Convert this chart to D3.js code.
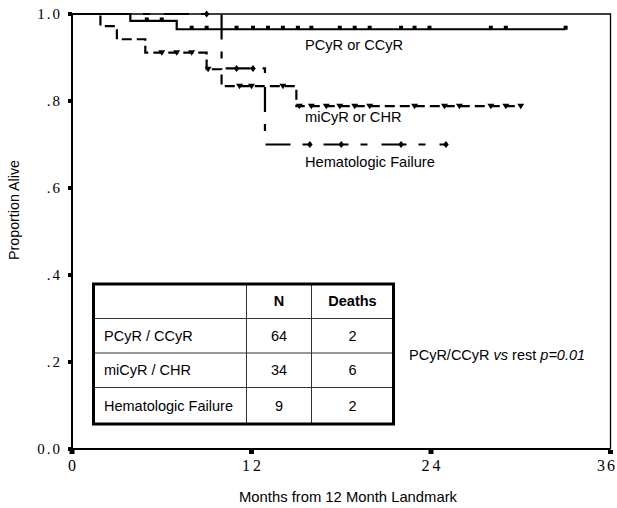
<!DOCTYPE html>
<html lang="en">
	<head>
		<meta charset="utf-8">
		<title>Proportion alive from 12 month landmark</title>
		<script type="text/javascript" src="https://cdn.jsdelivr.net/npm/d3@7"></script>
		<style type="text/css">
			body { margin: 0; background: white; }
			text { font-family: "Liberation Sans", Arial, sans-serif; fill: black; }
			.tick-label { font-family: "Liberation Serif", "Times New Roman", serif; }
		</style>
	</head>
	<body>
		<script type="text/javascript">

			var w = 617;
			var h = 508;

			// Kaplan-Meier steps: [month, proportion alive]
			var pcyrSteps = [[0, 1], [3.9, 0.984], [7.0, 0.965]];
			var pcyrEnd = 33.0;
			var pcyrCensored = [5, 6, 8, 9, 11, 12.1, 13.1, 14.1, 15.1, 16, 17.9, 18.9, 19.9, 22, 22.9, 23.9, 28, 29, 33];

			var micySteps = [[0, 1], [1.9, 0.972], [3.0, 0.942], [4.9, 0.911], [9.0, 0.873], [10.0, 0.834], [15.0, 0.788]];
			var micyEnd = 30.0;
			var micyCensored = [6, 7, 8, 9.1, 11.2, 12.0, 14.1, 15.2, 16, 17, 17.9, 18.9, 19.9, 22.9, 24.9, 25.9, 28, 29, 30];

			var hfSteps = [[0, 1], [10.0, 0.875], [12.9, 0.70]];
			var hfEnd = 25.0;
			var hfCensored = [9.0, 11.0, 12.1, 15.9, 18.0, 22.0, 25.0];

			var curveLabels = ["PCyR or CCyR", "miCyR or CHR", "Hematologic Failure"];

			var xTicks = [0, 12, 24, 36];
			var xTickLabels = ["0", "12", "24", "36"];
			var yTicks = [0, 0.2, 0.4, 0.6, 0.8, 1.0];
			var yTickLabels = ["0.0", ".2", ".4", ".6", ".8", "1.0"];

			var tableHeader = ["", "N", "Deaths"];
			var tableGroups = ["PCyR / CCyR", "miCyR / CHR", "Hematologic Failure"];
			var tableN = [64, 34, 9];
			var tableDeaths = [2, 6, 2];

			var svg = d3.select("body")
						.append("svg")
						.attr("width", w)
						.attr("height", h);

			var x = d3.scaleLinear().domain([0, 36]).range([72, 610.5]);
			var y = d3.scaleLinear().domain([0, 1]).range([449, 14]);

			// frame (top and right thin)
			svg.append("path")
				.attr("d", "M" + x(0) + "," + y(1) + "H" + x(36) + "V" + y(0))
				.attr("fill", "none")
				.attr("stroke", "black")
				.attr("stroke-width", 1.3);

			// axes lines
			svg.append("line")
				.attr("x1", x(0)).attr("x2", x(0))
				.attr("y1", y(1)).attr("y2", y(0))
				.attr("stroke", "black").attr("stroke-width", 2);
			svg.append("line")
				.attr("x1", x(0)).attr("x2", x(36))
				.attr("y1", y(0)).attr("y2", y(0))
				.attr("stroke", "black").attr("stroke-width", 2);

			// y ticks: small squares left of the axis
			svg.selectAll("rect.ytick")
				.data(yTicks)
				.enter()
				.append("rect")
				.attr("class", "ytick")
				.attr("x", x(0) - 4)
				.attr("y", function(d) { return y(d) - 2; })
				.attr("width", 4)
				.attr("height", 4)
				.attr("fill", "black");

			svg.selectAll("text.ylab")
				.data(yTicks)
				.enter()
				.append("text")
				.attr("class", "ylab tick-label")
				.attr("x", 62)
				.attr("y", function(d) { return y(d) + 5; })
				.attr("text-anchor", "end")
				.style("font-size", "15px")
				.style("letter-spacing", "2px")
				.text(function(d, i) { return yTickLabels[i]; });

			// x ticks
			svg.selectAll("rect.xtick")
				.data(xTicks)
				.enter()
				.append("rect")
				.attr("class", "xtick")
				.attr("x", function(d) { return x(d) - 2.5; })
				.attr("y", y(0) + 1)
				.attr("width", 5)
				.attr("height", 4)
				.attr("fill", "black");

			// last label is pulled in a little so it stays on the page
			svg.selectAll("text.xlab")
				.data(xTicks)
				.enter()
				.append("text")
				.attr("class", "xlab tick-label")
				.attr("x", function(d, i) { return i === xTicks.length - 1 ? 617 : x(d) + 1.5; })
				.attr("y", 471)
				.attr("text-anchor", function(d, i) { return i === xTicks.length - 1 ? "end" : "middle"; })
				.style("font-size", "16px")
				.style("letter-spacing", function(d, i) { return i === xTicks.length - 1 ? "2px" : "3px"; })
				.text(function(d, i) { return xTickLabels[i]; });

			// axis titles
			svg.append("text")
				.attr("transform", "translate(19,210) rotate(-90)")
				.attr("text-anchor", "middle")
				.style("font-size", "14.3px")
				.text("Proportion Alive");

			svg.append("text")
				.attr("x", 348)
				.attr("y", 502)
				.attr("text-anchor", "middle")
				.style("font-size", "14.8px")
				.text("Months from 12 Month Landmark");

			// survival step value at time t
			function survAt(steps, t) {
				var v = steps[0][1];
				steps.forEach(function(s) { if (s[0] <= t) { v = s[1]; } });
				return v;
			}

			var line = d3.line()
				.x(function(d) { return x(d[0]); })
				.y(function(d) { return y(d[1]); })
				.curve(d3.curveStepAfter);

			var series = [
				{ steps: pcyrSteps, end: pcyrEnd, censored: pcyrCensored, dash: null, offset: 0, mark: "square" },
				{ steps: micySteps, end: micyEnd, censored: micyCensored, dash: "10,5", offset: 0, mark: "triangle" },
				{ steps: hfSteps, end: hfEnd, censored: hfCensored, dash: "25,12,7,14", offset: 24, mark: "diamond" }
			];

			series.forEach(function(s) {
				var pts = s.steps.concat([[s.end, s.steps[s.steps.length - 1][1]]]);
				svg.append("path")
					.datum(pts)
					.attr("d", line)
					.attr("fill", "none")
					.attr("stroke", "black")
					.attr("stroke-width", 2.2)
					.attr("stroke-dasharray", s.dash)
					.attr("stroke-dashoffset", s.offset);

				var marks = svg.selectAll(null)
					.data(s.censored)
					.enter();

				if (s.mark === "square") {
					marks.append("rect")
						.attr("x", function(d) { return x(d) - 2; })
						.attr("y", function(d) { return y(survAt(s.steps, d)) - 3.5; })
						.attr("width", 4)
						.attr("height", 4)
						.attr("fill", "black");
				} else if (s.mark === "triangle") {
					marks.append("path")
						.attr("d", function(d) {
							var cx = x(d), cy = y(survAt(s.steps, d));
							return "M" + (cx - 3.5) + "," + (cy - 2.5) + "H" + (cx + 3.5) + "L" + cx + "," + (cy + 3) + "Z";
						})
						.attr("fill", "black");
				} else {
					marks.append("path")
						.attr("d", function(d) {
							var cx = x(d), cy = y(survAt(s.steps, d));
							return "M" + cx + "," + (cy - 3.5) + "L" + (cx + 2.8) + "," + cy + "L" + cx + "," + (cy + 3.5) + "L" + (cx - 2.8) + "," + cy + "Z";
						})
						.attr("fill", "black");
				}
			});

			// curve labels
			var labelY = [50, 122, 167];
			svg.selectAll("text.clabel")
				.data(curveLabels)
				.enter()
				.append("text")
				.attr("class", "clabel")
				.attr("x", 305)
				.attr("y", function(d, i) { return labelY[i]; })
				.style("font-size", "14.6px")
				.text(function(d) { return d; });

			// table
			var colX = [93.5, 246.5, 311.5, 393.5];
			var rowY = [284, 318.5, 353, 387.5, 424];
			var table = svg.append("g");

			table.append("rect")
				.attr("x", colX[0]).attr("y", rowY[0])
				.attr("width", colX[3] - colX[0]).attr("height", rowY[4] - rowY[0])
				.attr("fill", "white");

			table.selectAll("line.col")
				.data(colX.slice(1, 3))
				.enter()
				.append("line")
				.attr("x1", function(d) { return d; }).attr("x2", function(d) { return d; })
				.attr("y1", rowY[0]).attr("y2", rowY[4])
				.attr("stroke", "#333").attr("stroke-width", 1);

			table.selectAll("line.row")
				.data(rowY.slice(1, 4))
				.enter()
				.append("line")
				.attr("x1", colX[0]).attr("x2", colX[3])
				.attr("y1", function(d) { return d; }).attr("y2", function(d) { return d; })
				.attr("stroke", "#333").attr("stroke-width", 1);

			table.append("rect")
				.attr("x", colX[0]).attr("y", rowY[0])
				.attr("width", colX[3] - colX[0]).attr("height", rowY[4] - rowY[0])
				.attr("fill", "none")
				.attr("stroke", "black")
				.attr("stroke-width", 3);

			table.selectAll("text.head")
				.data(tableHeader)
				.enter()
				.append("text")
				.attr("x", function(d, i) { return (colX[i] + colX[i + 1]) / 2; })
				.attr("y", (rowY[0] + rowY[1]) / 2 + 5)
				.attr("text-anchor", "middle")
				.style("font-size", "14.5px")
				.style("font-weight", "bold")
				.text(function(d) { return d; });

			table.selectAll("text.group")
				.data(tableGroups)
				.enter()
				.append("text")
				.attr("x", colX[0] + 10.5)
				.attr("y", function(d, i) { return (rowY[i + 1] + rowY[i + 2]) / 2 + 5; })
				.style("font-size", "14.5px")
				.text(function(d) { return d; });

			table.selectAll("text.n")
				.data(tableN)
				.enter()
				.append("text")
				.attr("x", (colX[1] + colX[2]) / 2)
				.attr("y", function(d, i) { return (rowY[i + 1] + rowY[i + 2]) / 2 + 5; })
				.attr("text-anchor", "middle")
				.style("font-size", "14.5px")
				.text(function(d) { return d; });

			table.selectAll("text.deaths")
				.data(tableDeaths)
				.enter()
				.append("text")
				.attr("x", (colX[2] + colX[3]) / 2)
				.attr("y", function(d, i) { return (rowY[i + 1] + rowY[i + 2]) / 2 + 5; })
				.attr("text-anchor", "middle")
				.style("font-size", "14.5px")
				.text(function(d) { return d; });

			// p value note
			var note = svg.append("text")
				.attr("x", 409)
				.attr("y", 360)
				.style("font-size", "14.5px");
			note.append("tspan").text("PCyR/CCyR ");
			note.append("tspan").style("font-style", "italic").text("vs");
			note.append("tspan").text(" rest ");
			note.append("tspan").style("font-style", "italic").text("p=0.01");

		</script>
	</body>
</html>
